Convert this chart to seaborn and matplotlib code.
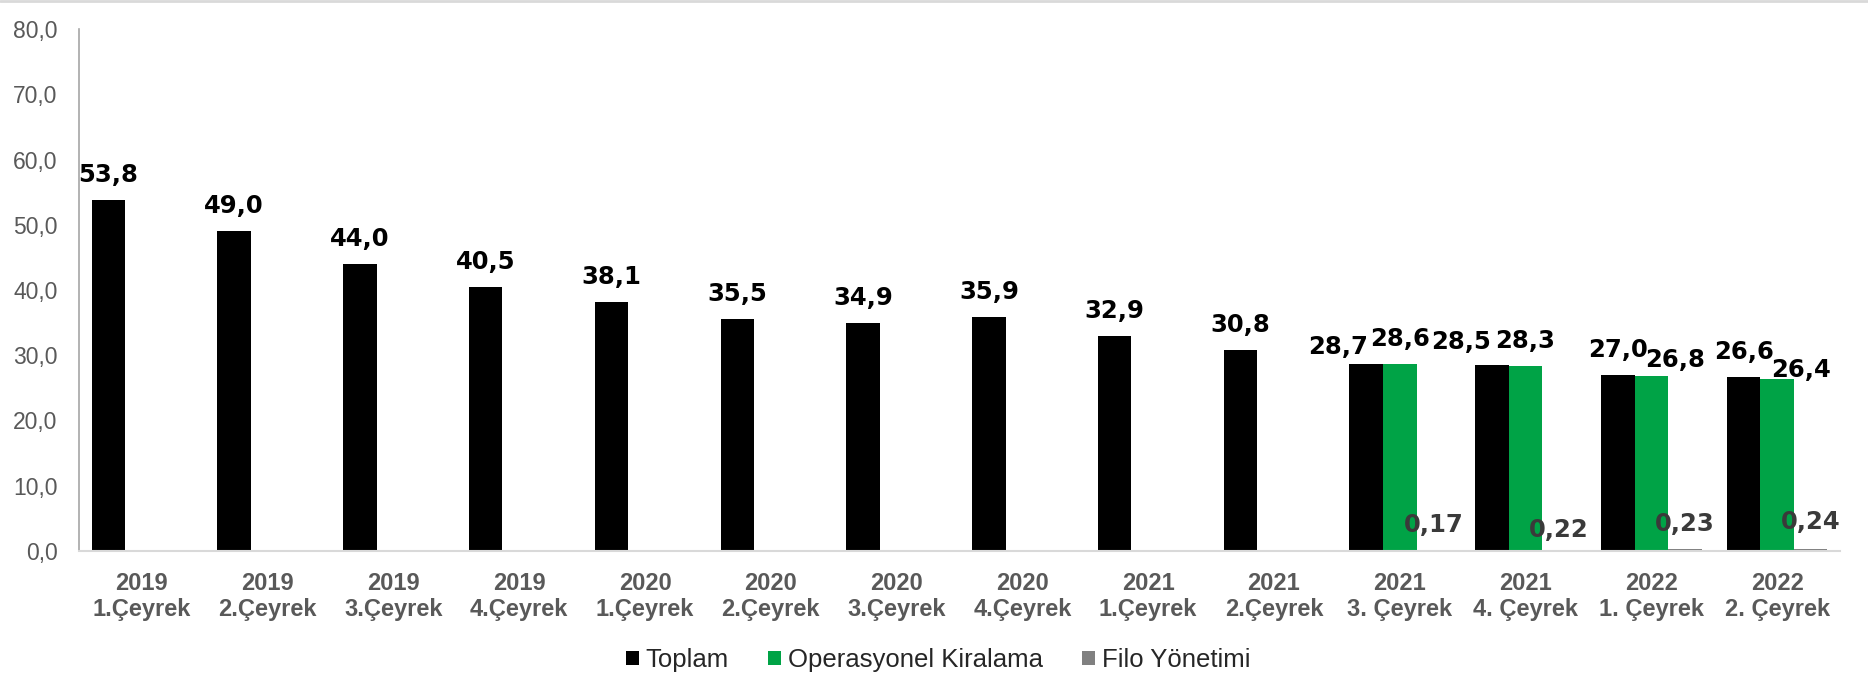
import matplotlib
matplotlib.use("Agg")
import matplotlib.pyplot as plt
from matplotlib.patches import Patch
from matplotlib.lines import Line2D
import seaborn as sns
import pandas as pd
import numpy as np

# ---------------- data ----------------
years = ["2019", "2019", "2019", "2019", "2020", "2020", "2020", "2020",
         "2021", "2021", "2021", "2021", "2022", "2022"]
quarters = ["1.Çeyrek", "2.Çeyrek", "3.Çeyrek", "4.Çeyrek",
            "1.Çeyrek", "2.Çeyrek", "3.Çeyrek", "4.Çeyrek",
            "1.Çeyrek", "2.Çeyrek", "3. Çeyrek", "4. Çeyrek",
            "1. Çeyrek", "2. Çeyrek"]
categories = [f"{y}\n{q}" for y, q in zip(years, quarters)]

toplam = [53.8, 49.0, 44.0, 40.5, 38.1, 35.5, 34.9, 35.9, 32.9, 30.8,
          28.7, 28.5, 27.0, 26.6]
operasyonel = [np.nan] * 10 + [28.6, 28.3, 26.8, 26.4]
filo = [np.nan] * 10 + [0.17, 0.22, 0.23, 0.24]

series_names = ["Toplam", "Operasyonel Kiralama", "Filo Yönetimi"]
series_values = [toplam, operasyonel, filo]
decimals = [1, 1, 2]

y_ticks = [0, 10, 20, 30, 40, 50, 60, 70, 80]

# ---------------- style ----------------
colors = ["#000000", "#00A346", "#808080"]
label_colors = ["#000000", "#000000", "#3A3A3A"]
PX = 72 / 100  # px -> points at dpi 100

# default gap (px, above bar top to label bbox bottom) per series
default_gap = [13, 13, 13]
# special label placements (series index, category index) -> (dx px, gap px)
label_adjust = {
    (0, 10): (-28, 5),
    (0, 11): (-31, 11),
    (1, 12): (24, 4),
    (1, 13): (24, -3),
    (2, 11): (0, 8),
    (2, 13): (0, 15),
}

rows = []
for name, vals in zip(series_names, series_values):
    for cat, v in zip(categories, vals):
        if not np.isnan(v):
            rows.append({"Kategori": cat, "Seri": name, "Değer": v})
df = pd.DataFrame(rows)

sns.set_theme(style="white")
plt.rcParams["font.family"] = ["Liberation Sans", "DejaVu Sans"]

fig = plt.figure(figsize=(18.68, 6.76), dpi=100)
ax = fig.add_axes([79 / 1868, 1 - 551 / 676, (1840 - 79) / 1868, (551 - 29) / 676])

sns.barplot(data=df, x="Kategori", y="Değer", hue="Seri", order=categories,
            hue_order=series_names, palette=colors, width=0.8, errorbar=None,
            saturation=1, linewidth=0, legend=False, ax=ax)

# data labels
for si, cont in enumerate(ax.containers):
    vals = series_values[si]
    for bar in cont:
        cx = bar.get_x() + bar.get_width() / 2
        ci = int(round(cx))
        v = vals[ci]
        if np.isnan(v):
            continue
        txt = f"{v:.{decimals[si]}f}".replace(".", ",")
        dx, gap = label_adjust.get((si, ci), (0, default_gap[si]))
        ax.annotate(txt, xy=(cx, bar.get_height()), xytext=(dx * PX, gap * PX),
                    textcoords="offset points", ha="center", va="bottom",
                    fontsize=17.5, fontweight="bold", family="DejaVu Sans",
                    color=label_colors[si], annotation_clip=False)

ax.set_ylim(0, 80)
ax.set_xlim(-0.5, len(categories) - 0.5)
ax.set_yticks(y_ticks)
ax.set_yticklabels([f"{t:.1f}".replace(".", ",") for t in y_ticks])
ax.set_xlabel("")
ax.set_ylabel("")
ax.tick_params(axis="y", length=0, pad=15.5, labelsize=16.5, labelcolor="#595959")
ax.tick_params(axis="x", length=0, pad=15, labelsize=17, labelcolor="#595959")
for lab in ax.get_xticklabels():
    lab.set_fontweight("bold")
    lab.set_linespacing(1.2)

for s in ["top", "right"]:
    ax.spines[s].set_visible(False)
ax.spines["left"].set_color("#A6A6A6")
ax.spines["left"].set_linewidth(1.2)
ax.spines["bottom"].set_color("#D9D9D9")
ax.spines["bottom"].set_linewidth(1.5)
ax.grid(False)

handles = [Patch(facecolor=c, edgecolor="none") for c in colors]
fig.legend(handles, series_names, loc="center", bbox_to_anchor=(938 / 1868, 1 - 660 / 676),
           ncol=3, frameon=False, fontsize=18.5, handlelength=0.5, handleheight=0.5,
           handletextpad=0.27, columnspacing=1.52)

fig.add_artist(Line2D([0, 1], [0.998, 0.998], color="#D9D9D9", lw=2,
                      transform=fig.transFigure))

fig.savefig("out.png", dpi=100)
